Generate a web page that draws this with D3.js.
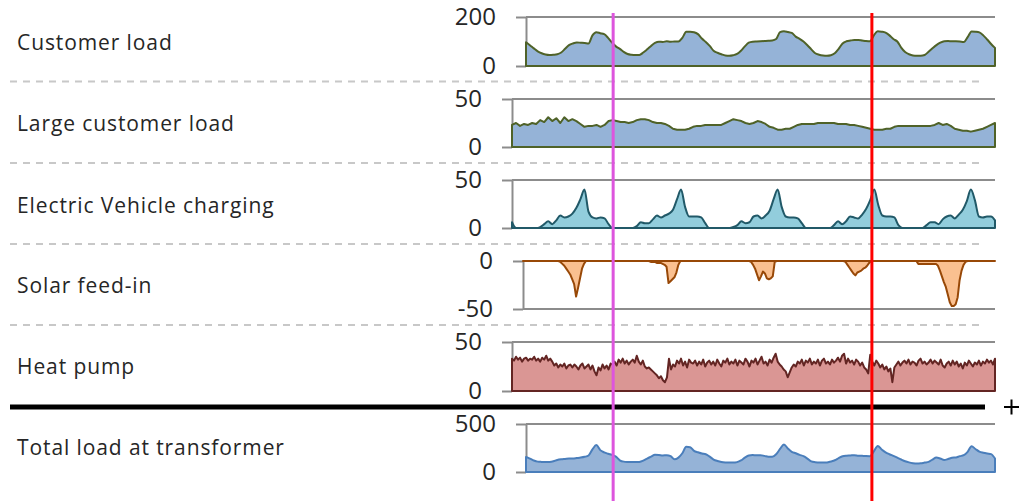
<!DOCTYPE html>
<html>
<head>
<meta charset="utf-8">
<script src="https://cdn.jsdelivr.net/npm/d3@7"></script>
<style>
  html, body { margin: 0; padding: 0; background: #ffffff; }
  svg { display: block; }
  text { font-family: "Open Sans", "Noto Sans", sans-serif; }
</style>
</head>
<body>
<svg id="chart" width="1022" height="501"></svg>
<script>
// ---- Data: five days of load profiles (hours 0..120) ----
const spanHours = 120;

// hourly values, kW
const customerLoad = [
  97,85,72,60,52,47,45,46,48,55,
  70,85,92,96,95,94,92,125,138,134,
  130,115,96,80,70,58,49,46,45,45,
  55,68,82,94,99,98,101,99,100,100,
  115,140,140,138,130,112,98,82,62,54,
  48,43,42,44,49,62,80,95,99,100,
  101,102,103,104,110,138,142,139,135,120,
  111,100,85,68,52,46,43,42,44,52,
  70,92,101,104,106,106,104,102,101,125,
  142,140,136,125,110,100,75,57,48,43,
  42,42,45,58,72,85,95,101,102,101,
  101,100,98,118,141,140,137,125,108,90,
  74
];

const largeCustomerLoad = [
  23,25,22,24,23,25,24,28,26,31,
  27,30,25,31,27,29,27,24,21,22,
  22,23,21,23,27,28,27,26,26,25,
  26,28,29,29,28,26,25,25,24,22,
  19,18,18,18,19,21,22,22,23,23,
  23,23,23,25,27,29,28,27,25,24,
  25,27,26,24,21,20,18,18,19,19,
  21,23,24,24,24,24,25,25,25,25,
  25,24,24,24,23,23,22,21,20,19,
  18,18,18,19,19,21,22,22,22,22,
  22,22,22,22,22,23,25,23,24,22,
  19,18,17,17,16,17,18,19,21,23,
  25
];

const evCharging = [
  6,0,0,0,0,0,0,1,4,7,
  4,8,13,11,12,15,21,30,40,17,
  11,10,11,10,4,0,0,0,0,0,
  0,2,6,5,5,9,13,11,13,15,
  19,30,40,22,12,12,12,11,5,0,
  0,0,0,0,0,1,3,7,5,6,
  12,13,10,13,18,30,40,22,12,11,
  11,10,5,0,0,0,0,0,0,0,
  3,7,4,7,12,11,10,14,20,29,
  40,24,13,12,12,11,3,0,0,0,
  0,0,0,3,6,6,4,9,12,13,
  10,14,19,28,40,29,12,11,12,12,
  8
];

// half-hourly values, kW (negative = feed-in)
const solarFeedIn = [
  0,0,0,0,0,0,0,0,0,0,
  0,0,0,0,0,0,0,0,0,-1,
  -3,-5,-8,-11,-14,-19,-24,-37,-28,-18,
  -8,-3,0,0,0,0,0,0,0,0,
  0,0,0,0,0,0,0,0,0,0,
  0,0,0,0,0,0,0,0,0,0,
  0,0,0,0,0,-1,-1,-1,-2,-2,
  -2,-3,-4,-6,-23,-21,-19,-17,-12,-4,
  0,0,0,0,0,0,0,0,0,0,
  0,0,0,0,0,0,0,0,0,0,
  0,0,0,0,0,0,0,0,0,0,
  0,0,0,0,0,0,-1,-4,-8,-14,
  -20,-16,-11,-13,-18,-19,-18,-16,-1,0,
  0,0,0,0,0,0,0,0,0,0,
  0,0,0,0,0,0,0,0,0,0,
  0,0,0,0,0,0,0,0,0,0,
  0,0,0,0,-1,-4,-7,-10,-13,-15,
  -12,-11,-10,-8,-7,-5,-2,0,0,0,
  0,0,0,0,0,0,0,0,0,0,
  0,0,0,0,0,0,0,0,0,0,
  0,-3,-3,-3,-3,-3,-3,-3,-3,-3,
  -3,-5,-10,-16,-22,-27,-35,-43,-47,-47,
  -45,-38,-20,-10,-4,-1,0,0,0,0,
  0,0,0,0,0,0,0,0,0,0,
  0
];

const heatPump = [
  33,31,35,32,34,30,33,34,31,33,
  32,35,31,33,30,34,32,36,31,33,
  30,26,28,24,27,25,28,23,26,27,
  24,27,25,22,26,28,23,25,27,22,
  26,20,16,24,21,27,23,26,22,28,
  27,30,26,32,29,33,28,31,27,30,
  32,29,36,30,27,31,25,23,24,22,
  20,18,16,13,15,11,9,14,33,22,
  27,25,31,28,33,26,30,24,32,29,
  28,31,26,30,27,32,25,29,31,27,
  30,26,32,28,25,31,29,33,27,30,
  28,32,26,31,29,27,33,30,25,31,
  29,33,27,31,35,28,30,26,32,29,
  34,38,30,27,25,22,20,14,19,24,
  27,25,30,28,32,26,31,29,33,27,
  30,28,32,26,31,33,28,30,27,32,
  29,31,34,30,36,38,28,33,29,31,
  27,32,30,26,29,24,22,18,37,30,
  26,31,28,24,27,22,25,20,23,9,
  24,27,30,26,29,31,28,32,27,30,
  29,26,31,33,28,30,27,29,32,28,
  31,29,27,32,26,24,28,30,26,31,
  27,30,25,28,23,29,26,31,28,25,
  29,27,31,26,30,28,32,29,31,27,
  33
];

const totalLoad = [
  157,140,120,108,105,103,105,112,125,132,
  136,140,140,145,150,158,172,235,280,228,
  205,190,178,160,122,108,105,104,103,105,
  118,140,160,180,178,172,175,165,132,150,
  195,262,258,220,205,192,185,160,130,115,
  105,100,98,98,103,120,150,172,176,174,
  175,168,160,158,185,240,287,245,210,195,
  178,165,140,110,102,98,98,100,110,122,
  145,164,170,172,175,170,168,166,165,215,
  272,235,205,185,168,150,130,112,100,92,
  88,90,98,105,130,150,140,125,135,148,
  152,165,175,210,268,240,212,200,192,186,
  140
];

const rowLabels = [
  "Customer load",
  "Large customer load",
  "Electric Vehicle charging",
  "Solar feed-in",
  "Heat pump",
  "Total load at transformer"
];

// time markers (hours)
const markerHours = [22.3, 88.5];
const markerColors = ["#dd55dd", "#ff0000"];

// ---- Layout ----
const svg = d3.select("#chart");
const plotRight = 995;

const panels = [
  { label: rowLabels[0], values: customerLoad, domain: [0, 200], ticks: [0, 200],
    fill: "#95b3d7", stroke: "#4f6228", curve: d3.curveMonotoneX,
    left: 526, top: 17, bottom: 66, labelY: 43 },
  { label: rowLabels[1], values: largeCustomerLoad, domain: [0, 50], ticks: [0, 50],
    fill: "#95b3d7", stroke: "#4f6228", curve: d3.curveLinear,
    left: 512, top: 99, bottom: 147, labelY: 124 },
  { label: rowLabels[2], values: evCharging, domain: [0, 50], ticks: [0, 50],
    fill: "#92cddc", stroke: "#215968", curve: d3.curveMonotoneX,
    left: 512, top: 180, bottom: 228, labelY: 206 },
  { label: rowLabels[3], values: solarFeedIn, domain: [-50, 0], ticks: [-50, 0],
    fill: "#fac090", stroke: "#984807", curve: d3.curveLinear,
    left: 523, top: 261, bottom: 309, labelY: 286 },
  { label: rowLabels[4], values: heatPump, domain: [0, 50], ticks: [0, 50],
    fill: "#da9694", stroke: "#632523", curve: d3.curveLinear,
    left: 512, top: 342, bottom: 391, labelY: 367 },
  { label: rowLabels[5], values: totalLoad, domain: [0, 500], ticks: [0, 500],
    fill: "#95b3d7", stroke: "#4a7ebb", curve: d3.curveMonotoneX,
    left: 526, top: 424, bottom: 472, labelY: 448 }
];

// row separators
const separators = [81.5, 163, 244, 325];
svg.selectAll("line.sep").data(separators).join("line")
  .attr("class", "sep")
  .attr("x1", 10).attr("x2", 985)
  .attr("y1", d => d).attr("y2", d => d)
  .attr("stroke", "#c8c8c8").attr("stroke-width", 2)
  .attr("stroke-dasharray", "7,6");

// row labels
svg.selectAll("text.rowlabel").data(panels).join("text")
  .attr("class", "rowlabel")
  .attr("x", 17).attr("y", d => d.labelY)
  .attr("dy", "0.35em")
  .attr("font-size", 21)
  .attr("letter-spacing", 0.9)
  .attr("fill", "#262626")
  .text(d => d.label);

// plain hyphen for negative tick values
const tickFormat = d => String(d);

panels.forEach(p => {
  const g = svg.append("g");
  const x = d3.scaleLinear().domain([0, spanHours]).range([p.left, plotRight]);
  const y = d3.scaleLinear().domain(p.domain).range([p.bottom, p.top]);
  const step = spanHours / (p.values.length - 1);

  // gridlines at the tick values
  g.selectAll("line.grid").data(p.ticks).join("line")
    .attr("x1", p.left).attr("x2", plotRight)
    .attr("y1", d => y(d)).attr("y2", d => y(d))
    .attr("stroke", "#8c8c8c").attr("stroke-width", 2);

  // left axis with outward ticks
  const axis = d3.axisLeft(y).tickValues(p.ticks).tickSize(10).tickSizeOuter(0)
    .tickPadding(20).tickFormat(tickFormat);
  const ag = g.append("g").attr("transform", `translate(${p.left},0)`).call(axis);
  ag.select(".domain").attr("stroke", "#8c8c8c").attr("stroke-width", 2);
  ag.selectAll(".tick line").attr("stroke", "#8c8c8c").attr("stroke-width", 2);
  ag.selectAll(".tick text")
    .attr("font-family", "\"Open Sans\", sans-serif")
    .attr("font-size", 24).attr("fill", "#262626");

  // filled area with outline (closed along the zero line)
  const area = d3.area()
    .x((d, i) => x(i * step))
    .y0(y(0))
    .y1(d => y(d))
    .curve(p.curve);
  g.append("path")
    .datum(p.values)
    .attr("d", area)
    .attr("fill", p.fill)
    .attr("stroke", p.stroke)
    .attr("stroke-width", 2)
    .attr("stroke-linejoin", "round");
});

// heavy divider above the transformer total
svg.append("line")
  .attr("x1", 10).attr("x2", 985).attr("y1", 407).attr("y2", 407)
  .attr("stroke", "#000").attr("stroke-width", 5);
svg.append("path")
  .attr("d", "M1004,407H1019M1011.5,399.5V414.5")
  .attr("stroke", "#000").attr("stroke-width", 2).attr("fill", "none");

// time markers, placed on the top panel's time scale
const xMarker = d3.scaleLinear().domain([0, spanHours]).range([panels[0].left, plotRight]);
svg.selectAll("line.marker").data(markerHours).join("line")
  .attr("class", "marker")
  .attr("x1", d => xMarker(d)).attr("x2", d => xMarker(d))
  .attr("y1", 13).attr("y2", 501)
  .attr("stroke", (d, i) => markerColors[i]).attr("stroke-width", 3);
</script>
</body>
</html>
